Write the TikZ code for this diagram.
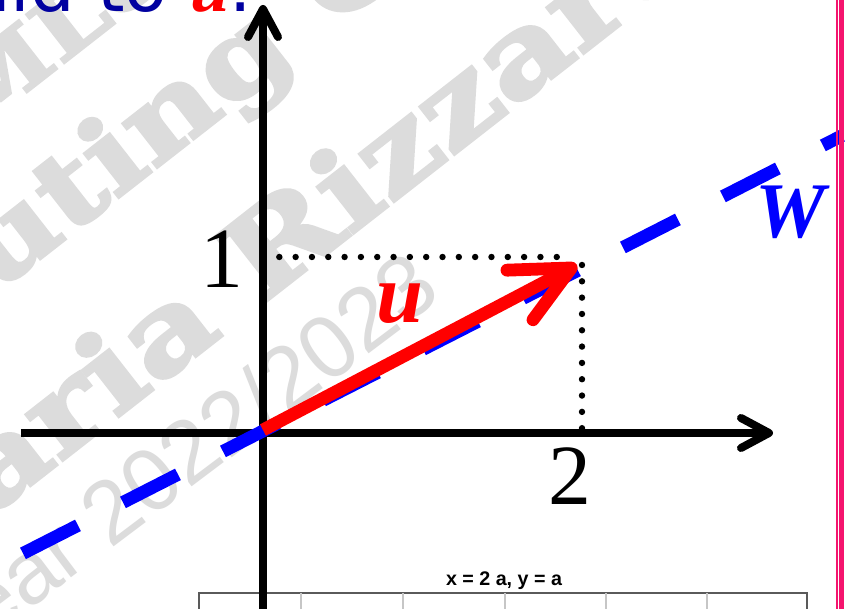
\documentclass[tikz,border=0pt]{standalone}
\usepackage{fontspec}
\setmainfont{Liberation Serif}
\newfontfamily\slabfont{DejaVu Serif}[BoldFeatures={FakeBold=3,FakeStretch=1.2}]
\newfontfamily\yearfont{Liberation Sans}
\newfontfamily\titlefont{DejaVu Sans}
\usepackage{tikz}
\usetikzlibrary{arrows.meta}
\definecolor{wmgray}{RGB}{220,220,220}
\definecolor{titleblue}{RGB}{0,0,160}
\definecolor{wblue}{RGB}{0,0,255}
\definecolor{framepink}{RGB}{245,20,110}
\definecolor{tablegray}{RGB}{90,90,90}

\begin{document}
\begin{tikzpicture}[
    axisline/.style={line width=0.2cm, -{Straight Barb[round,length=0.7cm,width=0.75cm]}},
    uvec/.style={draw=red, line width=0.32cm, -{Straight Barb[round,length=1.45cm,width=1.4cm]}},
    spanline/.style={draw=wblue, line width=0.32cm, dash pattern=on 1.543cm off 1.263cm},
    dotline/.style={line width=0.16cm, line cap=round, dash pattern=on 0pt off 0.408cm},
    wmslab/.style={text=wmgray, inner sep=0pt, anchor=base west, rotate=38, font=\slabfont\bfseries\fontsize{76}{76}\selectfont},
    wmyear/.style={text=wmgray, inner sep=0pt, anchor=base west, rotate=37, font=\yearfont\fontsize{63}{63}\selectfont},
    ticklabel/.style={inner sep=0pt, anchor=base, font=\fontsize{61}{61}\selectfont},
    veclabel/.style={inner sep=0pt, anchor=base, font=\bfseries\itshape\fontsize{60}{60}\selectfont},
    tableline/.style={draw=tablegray, line width=0.03cm},
    tablesep/.style={draw=gray!45, line width=0.03cm}
]

        \useasboundingbox (-6.575,-4.4) rectangle (14.575,10.825);
        \clip (-6.575,-4.4) rectangle (14.575,10.825);
        \fill[white] (-6.575,-4.4) rectangle (14.575,10.825);

        % watermark
        \node[wmslab, font=\slabfont\bfseries\fontsize{60}{60}\selectfont, name=wmA] at(-7.275,7.45) {ML\&};
        \node[wmslab, name=wmB] at(-6.7,3.475) {uting C};
        \node[wmslab, font=\slabfont\bfseries\fontsize{80}{80}\selectfont, name=wmC] at(-6.825,-2.1) {aria Rizzard};
        \node[wmyear, name=wmD] at(-6.875,-5.2) {ear 2022/2023};

        \node[anchor=base east, inner sep=0pt, text=titleblue, font=\titlefont\fontsize{50}{50}\selectfont, name=title] at(-0.275,10.525) {uld to \textcolor{red}{\normalfont\bfseries\itshape u}.};

        % table below the plot
        \node[anchor=base, inner sep=0pt, font=\yearfont\bfseries\fontsize{14}{14}\selectfont, name=tabletitle] at(6.025,-3.825) {x = 2 a, y = a};
        \coordinate (tl) at (-1.6,-4.0);
        \coordinate (tr) at (13.6,-4.0);
        \coordinate (bl) at (-1.6,-4.6);
        \coordinate (br) at (13.6,-4.6);
        \draw[tableline] (bl) -- (tl) -- (tr) -- (br);
        \foreach \x in {0.95,3.5,6.05,8.575,11.1}
            \draw[tablesep] (\x,-4.0) -- (\x,-4.6);

        \coordinate (O) at (0,0);
        \coordinate (xstart) at (-6.05,0);
        \coordinate (xend) at (12.75,0);
        \coordinate (ystart) at (0,-4.6);
        \coordinate (yend) at (0,10.7);
        \coordinate (ustart) at (0,0.075);
        \coordinate (utip) at (7.85,4.2);
        \coordinate (Wstart) at (-8.5,-4.285);
        \coordinate (Wend) at (14.475,7.432);
        \coordinate (onept) at (0,4.4);
        \coordinate (cornerh) at (7.75,4.4);
        \coordinate (cornerv) at (7.975,4.2);
        \coordinate (twopt) at (7.975,0);

        \draw[axisline] (xstart) -- (xend);
        \draw[axisline] (ystart) -- (yend);

        \draw[dotline] (onept) -- (cornerh);
        \draw[dotline] (cornerv) -- (twopt);

        \draw[spanline] (Wstart) -- (Wend);
        \draw[uvec] (ustart) -- (utip);

        \node[ticklabel, name=one] at(-1.025,3.625) {1};
        \node[ticklabel, name=two] at(7.675,-1.8) {2};
        \node[veclabel, text=red, name=ulabel] at(3.425,2.75) {u};
        \node[veclabel, text=wblue, font=\bfseries\itshape\fontsize{56}{56}\selectfont, name=Wlabel] at(13.175,4.875) {W};

        % slide frame
        \coordinate (fa) at (14.3375,-4.4);
        \coordinate (fb) at (14.3375,10.825);
        \coordinate (fc) at (14.4625,-4.4);
        \coordinate (fd) at (14.4625,10.825);
        \draw[framepink, line width=0.05cm] (fa) -- (fb);
        \draw[framepink, line width=0.125cm] (fc) -- (fd);

\end{tikzpicture}
\end{document}
